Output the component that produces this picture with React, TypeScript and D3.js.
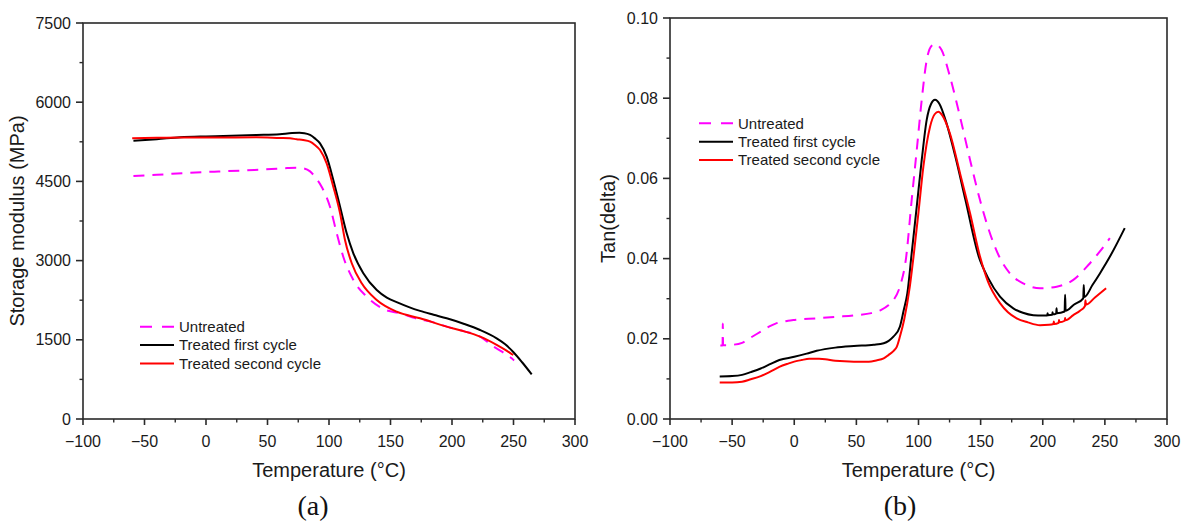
import React from 'react';
import * as d3 from 'd3';

// ---------- tick labels ----------
const xTicks = [-100, -50, 0, 50, 100, 150, 200, 250, 300];
const xTickLabels = ['−100', '−50', '0', '50', '100', '150', '200', '250', '300'];
const modulusTicks = [0, 1500, 3000, 4500, 6000, 7500];
const modulusTickLabels = ['0', '1500', '3000', '4500', '6000', '7500'];
const tanTicks = [0, 0.02, 0.04, 0.06, 0.08, 0.1];
const tanTickLabels = ['0.00', '0.02', '0.04', '0.06', '0.08', '0.10'];
const seriesNames = ['Untreated', 'Treated first cycle', 'Treated second cycle'];

// ---------- (a) storage modulus, [T °C, MPa] ----------
const modulusUntreated: [number, number][] = [
  [-59, 4602], [-40, 4625], [-13, 4665], [10, 4688], [27.6, 4703], [45, 4725], [57.5, 4741],
  [66, 4752], [73.7, 4758], [79, 4748], [84.6, 4690], [89, 4575], [94, 4400], [100.8, 4020],
  [106.3, 3517], [111.6, 3074], [119.8, 2633], [130.7, 2316], [144.2, 2085], [159, 1995],
  [170, 1910], [185, 1830], [195.7, 1750], [210, 1660], [222.8, 1560], [233.6, 1375],
  [241, 1270], [248.5, 1150], [250.5, 1110],
];
const modulusFirst: [number, number][] = [
  [-59, 5271], [-40, 5300], [-21, 5335], [0, 5352], [14, 5360], [41, 5379], [60, 5395],
  [70, 5415], [76, 5420], [80, 5414], [84.6, 5379], [88.5, 5315], [92.7, 5221], [98.1, 4968],
  [103.5, 4527], [109, 4020], [114.4, 3517], [119.8, 3138], [127.9, 2760], [138.8, 2443],
  [147, 2300], [156, 2205], [165, 2120], [174, 2048], [185, 1975], [195.7, 1907], [210, 1800],
  [222.8, 1686], [236.3, 1528], [243, 1420], [249.8, 1270], [257, 1075], [264.8, 845],
];
const modulusSecond: [number, number][] = [
  [-60, 5316], [-40, 5325], [-20, 5330], [0, 5330], [20, 5333], [41, 5335], [60, 5322],
  [68.3, 5316], [73.7, 5297], [79, 5283], [84.6, 5252], [88.5, 5190], [92.7, 5095],
  [98.1, 4843], [103.5, 4400], [109, 3896], [113, 3390], [118.5, 2949], [126.6, 2570],
  [138.8, 2254], [155, 2032], [174, 1907], [195.7, 1750], [210, 1660], [222.8, 1560],
  [236.3, 1405], [244, 1300], [249.8, 1212],
];

// ---------- (b) tan delta, [T °C, tan δ] ----------
const tanUntreated: [number, number][] = [
  [-59.5, 0.0183], [-57.7, 0.0183], [-57.5, 0.0238], [-57.3, 0.0184], [-50, 0.0185],
  [-42, 0.019], [-35, 0.0203], [-27, 0.0218], [-20, 0.0231], [-15, 0.0238], [-5, 0.0245],
  [0, 0.0247], [18, 0.0251], [35, 0.0255], [50, 0.0259], [62, 0.0264], [70, 0.0272],
  [76, 0.0284], [80, 0.0297], [85, 0.033], [90, 0.0402], [94.5, 0.0546], [98.6, 0.0671],
  [102.6, 0.0796], [106.6, 0.0895], [110.6, 0.0931], [113.5, 0.0935], [118.6, 0.092],
  [125.3, 0.0854], [133.4, 0.0754], [141.5, 0.0646], [149.5, 0.0546], [160.3, 0.0439],
  [165.6, 0.0401], [173.6, 0.0363], [184.3, 0.0338], [197.8, 0.0326], [211.2, 0.033],
  [224.6, 0.0347], [236.7, 0.0384], [246, 0.0418], [254, 0.0451],
];
const tanFirst: [number, number][] = [
  [-60, 0.0106], [-50, 0.0107], [-42, 0.011], [-35, 0.0117], [-27, 0.0126], [-20, 0.0136],
  [-12, 0.0147], [0, 0.0155], [10, 0.0163], [18, 0.017], [33, 0.0178], [48, 0.0182],
  [64, 0.0185], [72, 0.0189], [76, 0.0195], [80, 0.0206], [85, 0.023], [88, 0.027],
  [91, 0.0313], [94.5, 0.0413], [98.6, 0.053], [102.6, 0.0646], [106.6, 0.0746],
  [110, 0.0785], [113.3, 0.0796], [117, 0.0785], [121.7, 0.0746], [129.7, 0.0654],
  [137.8, 0.0546], [148.5, 0.0405], [156, 0.0352], [165.6, 0.0305], [176.3, 0.0276],
  [184, 0.0265], [192.4, 0.0259], [200, 0.0258], [203.6, 0.0258], [203.9, 0.0264],
  [204.2, 0.0259], [207.6, 0.026], [207.9, 0.0266], [208.2, 0.0261], [210.8, 0.0263],
  [211.1, 0.0276], [211.4, 0.0264], [217.6, 0.0268], [218, 0.031], [218.4, 0.027],
  [225, 0.0285], [232.6, 0.0301], [233, 0.0334], [233.4, 0.0304], [240, 0.0334],
  [246, 0.0363], [255, 0.041], [266, 0.0476],
];
const tanSecond: [number, number][] = [
  [-60, 0.0091], [-50, 0.0091], [-42, 0.0093], [-35, 0.0099], [-27, 0.0107], [-20, 0.0117],
  [-12, 0.013], [-5, 0.0138], [0, 0.0143], [6, 0.0147], [12, 0.015], [20, 0.015],
  [25, 0.0149], [33, 0.0145], [48, 0.0143], [60, 0.0143], [66, 0.0146], [72, 0.0151],
  [76, 0.016], [80, 0.017], [82.5, 0.018], [85, 0.0205], [88.4, 0.0247], [93, 0.033],
  [96, 0.0405], [99.9, 0.0513], [103.9, 0.0629], [109.3, 0.0729], [113, 0.076],
  [116, 0.0766], [119, 0.0758], [125.3, 0.0712], [133.4, 0.0613], [141.5, 0.0513],
  [149.5, 0.0405], [156, 0.0342], [165.6, 0.0289], [172, 0.0266], [179, 0.0251],
  [188, 0.0241], [197.8, 0.0234], [205, 0.0235], [208.6, 0.0237], [208.9, 0.0243],
  [209.2, 0.0237], [212.8, 0.024], [213.1, 0.0247], [213.4, 0.0241], [217.7, 0.0245],
  [218, 0.0252], [218.3, 0.0246], [224.6, 0.0259], [230, 0.027], [234, 0.0282],
  [234.4, 0.0296], [234.8, 0.0285], [242, 0.0303], [251, 0.0326],
];

const COLORS = ['#ff00ff', '#000000', '#ff0000'];
const DASH = ['11,8', null, null];
const FONT = 'Arial, "Liberation Sans", Helvetica, sans-serif';
const AXIS = '#2a2a2a';

type PanelProps = {
  left: number; right: number; top: number; bottom: number;
  yDomain: [number, number];
  yTicks: number[]; yTickLabels: string[]; yMinorStep: number;
  yLabel: string; yLabelX: number;
  series: [number, number][][];
  legendX: number; legendY: number;
  caption: string; captionX: number;
};

function Panel(p: PanelProps) {
  const x = d3.scaleLinear().domain([-100, 300]).range([p.left, p.right]);
  const y = d3.scaleLinear().domain(p.yDomain).range([p.bottom, p.top]);
  const line = d3.line<[number, number]>()
    .x(d => x(d[0])).y(d => y(d[1])).curve(d3.curveMonotoneX);
  const xMinor = d3.range(-75, 300, 50);
  const yMinor = p.yTicks.slice(0, -1).map(v => v + p.yMinorStep);
  const midY = (p.top + p.bottom) / 2;
  const midX = (p.left + p.right) / 2;
  return (
    <g>
      {p.series.map((s, i) => (
        <path key={i} d={line(s) || ''} fill="none" stroke={COLORS[i]} strokeWidth={2}
          strokeDasharray={DASH[i] || undefined} strokeLinejoin="round" />
      ))}
      <rect x={p.left} y={p.top} width={p.right - p.left} height={p.bottom - p.top}
        fill="none" stroke={AXIS} strokeWidth={1.6} />
      {xTicks.map((t, i) => (
        <g key={'xt' + i}>
          <line x1={x(t)} x2={x(t)} y1={p.bottom} y2={p.bottom + 6} stroke={AXIS} strokeWidth={1.6} />
          <text x={x(t)} y={p.bottom + 28} textAnchor="middle" fontSize={16} fontFamily={FONT} fill="#1a1a1a">{xTickLabels[i]}</text>
        </g>
      ))}
      {xMinor.map((t, i) => (
        <line key={'xm' + i} x1={x(t)} x2={x(t)} y1={p.bottom} y2={p.bottom + 3.5} stroke={AXIS} strokeWidth={1.4} />
      ))}
      {p.yTicks.map((t, i) => (
        <g key={'yt' + i}>
          <line x1={p.left - 7} x2={p.left} y1={y(t)} y2={y(t)} stroke={AXIS} strokeWidth={1.6} />
          <text x={p.left - 12} y={y(t) + 5.5} textAnchor="end" fontSize={16} fontFamily={FONT} fill="#1a1a1a">{p.yTickLabels[i]}</text>
        </g>
      ))}
      {yMinor.map((t, i) => (
        <line key={'ym' + i} x1={p.left - 3.5} x2={p.left} y1={y(t)} y2={y(t)} stroke={AXIS} strokeWidth={1.4} />
      ))}
      <text x={midX} y={p.bottom + 58} textAnchor="middle" fontSize={20} fontFamily={FONT} fill="#1a1a1a">Temperature (°C)</text>
      <text transform={`translate(${p.yLabelX},${midY}) rotate(-90)`} textAnchor="middle" fontSize={20} fontFamily={FONT} fill="#1a1a1a">{p.yLabel}</text>
      {seriesNames.map((n, i) => {
        const ly = p.legendY + i * 18.4;
        return (
          <g key={'lg' + i}>
            <line x1={p.legendX} x2={p.legendX + 34} y1={ly} y2={ly} stroke={COLORS[i]} strokeWidth={2}
              strokeDasharray={DASH[i] ? '12,10' : undefined} />
            <text x={p.legendX + 39} y={ly + 5.3} fontSize={15} fontFamily={FONT} fill="#1a1a1a">{n}</text>
          </g>
        );
      })}
      <text x={p.captionX} y={515} textAnchor="middle" fontSize={28} fontFamily='"Liberation Serif", "Times New Roman", serif' fill="#111">{p.caption}</text>
    </g>
  );
}

export default function App() {
  return (
    <svg width={1182} height={524} style={{ position: 'absolute', left: 0, top: 0, background: '#fff' }}>
      <rect width={1182} height={524} fill="#fff" />
      <Panel left={83} right={575} top={23} bottom={419} yDomain={[0, 7500]}
        yTicks={modulusTicks} yTickLabels={modulusTickLabels} yMinorStep={750}
        yLabel="Storage modulus (MPa)" yLabelX={24}
        series={[modulusUntreated, modulusFirst, modulusSecond]}
        legendX={140} legendY={326.7} caption="(a)" captionX={313} />
      <Panel left={670} right={1167} top={18} bottom={419} yDomain={[0, 0.1]}
        yTicks={tanTicks} yTickLabels={tanTickLabels} yMinorStep={0.01}
        yLabel="Tan(delta)" yLabelX={615}
        series={[tanUntreated, tanFirst, tanSecond]}
        legendX={699} legendY={123.3} caption="(b)" captionX={900} />
    </svg>
  );
}
